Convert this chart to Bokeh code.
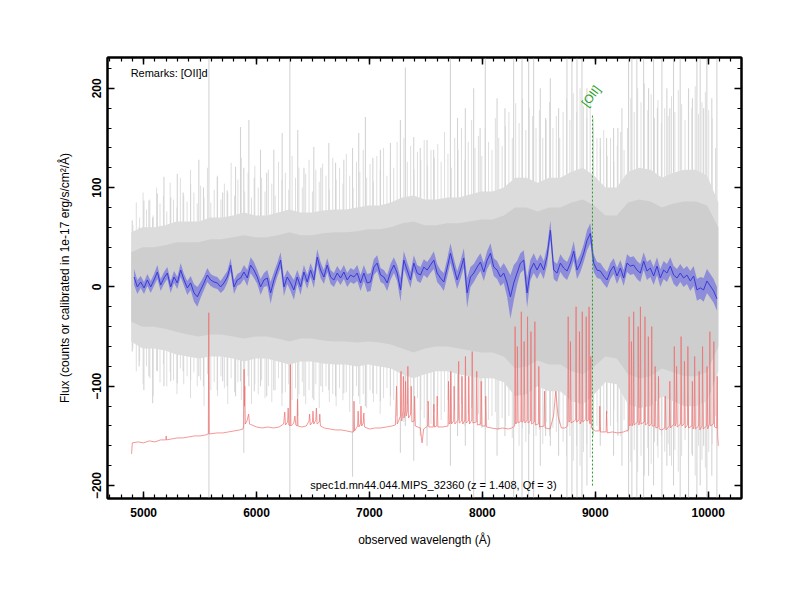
import numpy as np
from bokeh.plotting import figure
from bokeh.models import LinearAxis, SingleIntervalTicker, Range1d, Label
from bokeh.embed import file_html
from bokeh.resources import INLINE
from bokeh.core.properties import value

# ---------------- data ----------------
# smoothed object spectrum (blue), sampled every 29.5 A from 4915 A
blue_start = 4915.0
blue_step = 29.5
blue_flux = [
    10, 0, 5, -1, 7, 0, 7, 15, 2, 9,
    14, 0, 10, 4, 17, 7, -1, 4, -6, -10,
    -3, 4, 12, 7, 5, 4, 0, 4, 10, 22,
    0, 7, 9, 15, 9, 22, 17, 10, 0, 7,
    9, -6, 7, 17, 27, 0, 10, 4, -3, 10,
    0, 15, 5, 17, 7, 30, 17, 10, 22, 10, 7,
    14, 9, 15, 7, 12, 10, 14, 4, 14, 4,
    5, 20, 24, 12, 10, 4, 15, 22, 14, -3,
    27, 17, 7, 24, 14, 12, 20, 17, 22, 27,
    14, 9, 5, 19, 34, 20, 7, 17, 29, -6,
    10, 14, 20, 25, 15, 27, 34, 20, 17, 10,
    14, 4, -10, 4, 14, 24, 27, -6, 17, 24,
    17, 24, 17, 31, 57, 17, 14, 24, 19, 16,
    24, 36, 17, 24, 34, 47, 54, 24, 17, 16,
    11, 7, 16, 21, 11, 19, 9, 24, 21, 22,
    17, 14, 26, 16, 19, 11, 21, 9, 17, 14,
    21, 12, 9, 14, 9, 12, 6, 11, -3, -1,
    -3, 6, 1, -4, -12,
]
blue_err = [
    8, 7, 6, 6, 6, 6, 6, 7, 6, 6,
    6, 6, 6, 6, 7, 6, 7, 7, 9, 10,
    8, 7, 7, 6, 6, 6, 6, 7, 6, 7,
    7, 6, 6, 7, 8, 8, 8, 7, 8, 7,
    8, 11, 8, 7, 8, 9, 7, 8, 10, 7,
    8, 7, 7, 7, 8, 8, 8, 7, 7, 7, 7,
    7, 7, 7, 7, 7, 7, 8, 8, 8, 9,
    9, 8, 8, 7, 7, 8, 8, 8, 8, 12,
    9, 8, 8, 8, 8, 8, 8, 8, 8, 9,
    9, 8, 9, 9, 10, 9, 9, 9, 10, 15,
    10, 9, 9, 9, 9, 9, 10, 9, 9, 9,
    10, 14, 22, 18, 12, 10, 10, 15, 10, 10,
    9, 9, 9, 9, 10, 9, 9, 9, 9, 9,
    9, 10, 9, 9, 9, 10, 10, 9, 8, 8,
    8, 8, 8, 8, 8, 8, 8, 9, 9, 9,
    9, 9, 9, 9, 9, 9, 9, 9, 9, 9,
    9, 9, 9, 9, 9, 9, 10, 10, 11, 11,
    12, 12, 12, 12, 12,
]

# raw spectrum (grey): dense envelopes every 100 A from 4890 A
grey_start = 4890
grey_step = 100
grey_core_hi = [35, 40, 40, 42, 45, 45, 45, 48, 48, 50,
                52, 50, 50, 52, 55, 52, 52, 54, 55, 55,
                56, 58, 58, 60, 64, 66, 62, 62, 64, 64,
                66, 68, 68, 72, 80, 80, 76, 80, 80, 85,
                88, 82, 72, 72, 85, 88, 86, 80, 84, 86,
                86, 82, 60]
grey_core_lo = [-35, -40, -40, -42, -45, -48, -50, -48, -48, -50,
                -52, -50, -50, -52, -55, -52, -52, -54, -55, -55,
                -56, -55, -56, -58, -62, -66, -62, -60, -60, -62,
                -64, -66, -66, -70, -82, -80, -74, -78, -78, -85,
                -88, -80, -70, -72, -88, -92, -90, -82, -86, -90,
                -90, -86, -60]
grey_outer_hi = [55, 60, 60, 62, 66, 66, 66, 70, 70, 72,
                 75, 72, 72, 75, 78, 75, 75, 77, 78, 78,
                 80, 82, 82, 85, 90, 92, 88, 88, 90, 90,
                 93, 96, 96, 100, 110, 110, 105, 110, 110, 116,
                 120, 112, 100, 100, 116, 120, 118, 110, 115, 118,
                 118, 112, 85]
grey_outer_lo = [-55, -62, -62, -64, -68, -70, -72, -70, -70, -72,
                 -75, -72, -72, -75, -78, -75, -75, -77, -78, -78,
                 -80, -78, -80, -82, -88, -92, -88, -85, -85, -88,
                 -90, -92, -92, -96, -110, -108, -100, -105, -105, -115,
                 -118, -108, -96, -98, -118, -122, -120, -110, -115, -120,
                 -120, -115, -85]

# raw spectrum noise excursions, every 30 A from 4905 A
tex_start = 4905
tex_step = 30
tex_top = [
    62, 85, 70, 95, 78, 88, 72, 100, 84, 92,
    76, 105, 88, 80, 110, 92, 86, 118, 95, 84,
    102, 90, 120, 85, 98, 112, 88, 104, 95, 125,
    92, 108, 130, 96, 115, 90, 122, 100, 110, 96,
    118, 104, 92, 126, 108, 115, 98, 132, 110, 120,
    100, 114, 128, 96, 118, 106, 124, 112, 98, 130,
    108, 120, 104, 134, 112, 100, 126, 116, 138, 110,
    124, 106, 132, 118, 140, 112, 128, 120, 146, 130,
    150, 126, 142, 118, 136, 128, 148, 122, 138, 130,
    144, 126, 156, 134, 120, 150, 138, 160, 128, 146,
    168, 140, 152, 132, 160, 146, 138, 170, 150, 142,
    162, 176, 150, 185, 165, 190, 158, 180, 172, 160,
    178, 150, 168, 186, 160, 172, 150, 176, 190, 168,
    195, 176, 200, 182, 170, 188, 160, 150, 140, 158,
    132, 150, 126, 142, 156, 138, 160, 190, 176, 200,
    186, 205, 178, 194, 170, 188, 165, 180, 172, 192,
    176, 198, 184, 168, 190, 180, 202, 174, 186, 196,
    178, 170, 140,
]
tex_bot = [
    -62, -85, -75, -98, -80, -92, -110, -84, -96, -78,
    -100, -86, -94, -108, -82, -98, -90, -112, -86, -100,
    -94, -120, -88, -104, -96, -110, -90, -102, -118, -92,
    -106, -96, -114, -100, -90, -118, -98, -108, -94, -112,
    -100, -116, -104, -92, -120, -106, -98, -114, -102, -108,
    -96, -118, -104, -112, -98, -122, -106, -100, -116, -108,
    -120, -102, -114, -106, -126, -110, -100, -118, -108, -122,
    -104, -116, -108, -128, -112, -102, -120, -114, -130, -110,
    -136, -118, -128, -140, -112, -124, -132, -118, -138, -126,
    -120, -134, -126, -114, -138, -124, -132, -118, -140, -128,
    -122, -136, -128, -142, -120, -134, -130, -126, -144, -132,
    -140, -130, -152, -138, -160, -142, -156, -148, -136, -150,
    -144, -158, -136, -150, -142, -146, -138, -156, -170, -150,
    -175, -160, -180, -166, -158, -172, -150, -140, -132, -146,
    -128, -140, -124, -136, -150, -134, -146, -176, -164, -186,
    -170, -190, -162, -178, -156, -172, -150, -166, -158, -180,
    -164, -186, -170, -154, -178, -168, -190, -160, -174, -182,
    -166, -158, -130,
]

# individual raw-spectrum excursions at sky-line residuals
grey_spike_wave = [4899, 4960, 5002, 5047, 5080, 5121, 5180, 5240, 5298, 5350,
                   5416, 5489, 5530, 5578, 5652, 5700, 5740, 5814, 5858, 5887,
                   5932, 5980, 6035, 6090, 6153, 6227, 6295, 6365, 6420, 6507,
                   6570, 6640, 6700, 6773, 6850, 6905, 6964, 7030, 7097, 7186,
                   7274, 7318, 7392, 7450, 7510, 7569,
                   7717, 7780, 7849, 7923, 7980, 8026, 8130, 8200, 8277, 8351,
                   8410, 8454, 8513, 8560, 8602, 8675, 8749, 8793, 8838, 8882,
                   8926, 8980, 9044, 9100, 9162, 9200, 9236, 9295, 9324, 9368,
                   9428, 9472, 9516, 9550, 9590, 9634, 9660, 9693, 9752, 9826,
                   9860, 9900, 9929, 9960, 9988, 10032, 10077]
grey_spike_top = [67, 60, 87, 87, 70, 94, 111, 90, 114, 95,
                  104, 128, 100, 231, 111, 95, 97, 121, 161, 120,
                  168, 110, 138, 115, 138, 155, 231, 158, 120, 141,
                  120, 145, 125, 128, 140, 155, 171, 130, 138, 145,
                  168, 221, 151, 140, 148, 138,
                  231, 170, 180, 200, 160, 231, 190, 180, 231, 231,
                  231, 231, 200, 170, 210, 180, 231, 231, 231, 231,
                  200, 170, 150, 150, 160, 160, 180, 231, 231, 231,
                  231, 200, 231, 180, 231, 200, 180, 231, 231, 200,
                  190, 231, 231, 180, 231, 190, 231]
grey_spike_bot = [-65, -80, -104, -90, -117, -85, -100, -95, -97, -85,
                  -94, -90, -100, -213, -104, -95, -100, -110, -95, -167,
                  -100, -105, -100, -110, -104, -107, -213, -130, -110, -114,
                  -100, -104, -110, -107, -191, -110, -120, -107, -115, -110,
                  -167, -140, -175, -150, -160, -140,
                  -180, -150, -160, -213, -140, -200, -170, -150, -213, -213,
                  -213, -213, -180, -150, -160, -170, -213, -213, -213, -213,
                  -200, -150, -160, -140, -170, -150, -180, -213, -213, -213,
                  -213, -190, -200, -160, -213, -180, -170, -200, -213, -213,
                  -170, -213, -200, -160, -213, -190, -213]

# sky spectrum (red), wavelength / flux pairs
sky_points = [
    (4893, -168), (4900, -157), (4950, -156), (5000, -157), (5050, -155), (5100, -156),
    (5150, -154), (5197, -154), (5200, -150), (5203, -154), (5250, -153), (5300, -152),
    (5350, -152), (5400, -151), (5450, -150), (5500, -150), (5550, -149),
    (5573, -148), (5577, -26), (5581, -148),
    (5650, -147), (5700, -147), (5750, -146), (5800, -145), (5850, -144), (5880, -143),
    (5886, -140), (5890, -83), (5893, -120), (5896, -100), (5900, -138), (5915, -135),
    (5930, -128), (5938, -138), (5960, -139), (6000, -141), (6050, -142), (6100, -141),
    (6150, -142), (6200, -141),
    (6240, -138), (6250, -126), (6256, -139), (6275, -136), (6280, -122), (6286, -139),
    (6296, -140), (6300, -78), (6304, -140),
    (6330, -137), (6340, -130), (6348, -139), (6359, -140), (6363, -113), (6367, -140),
    (6400, -141), (6440, -140), (6465, -135), (6470, -128), (6476, -139), (6495, -136),
    (6500, -125), (6506, -138), (6525, -134), (6530, -122), (6536, -138), (6556, -136),
    (6560, -128), (6566, -140),
    (6600, -142), (6650, -143), (6700, -144), (6750, -144), (6800, -145), (6840, -146),
    (6859, -146), (6863, -115), (6868, -145), (6895, -140), (6900, -125), (6906, -141),
    (6920, -138), (6925, -120), (6931, -140), (6945, -137), (6950, -127), (6956, -141),
    (7000, -143), (7050, -142), (7100, -142), (7150, -141), (7200, -140), (7230, -139),
    (7240, -100), (7246, -138), (7275, -130), (7280, -85), (7286, -135), (7296, -125),
    (7300, -90), (7306, -132), (7316, -125), (7320, -95), (7326, -130), (7336, -125),
    (7340, -80), (7346, -132), (7366, -128), (7370, -100), (7376, -136), (7396, -135),
    (7400, -110), (7406, -140), (7450, -142), (7466, -157), (7480, -143),
    (7516, -140), (7520, -115), (7526, -141), (7566, -141), (7570, -118), (7576, -141),
    (7596, -140), (7600, -110), (7606, -141),
    (7650, -141), (7696, -140), (7700, -95), (7706, -138), (7716, -136), (7720, -85),
    (7726, -138), (7746, -135), (7750, -100), (7756, -138), (7786, -134), (7790, -75),
    (7796, -137), (7816, -135), (7820, -90), (7826, -138), (7846, -134), (7850, -70),
    (7856, -137), (7876, -135), (7880, -90), (7886, -138), (7906, -134), (7910, -65),
    (7916, -137), (7946, -136), (7950, -85), (7956, -139), (7986, -138), (7990, -95),
    (7996, -140), (8026, -140), (8030, -110), (8036, -141),
    (8080, -142), (8130, -143), (8180, -142), (8230, -143), (8260, -142),
    (8286, -140), (8290, -40), (8296, -138), (8306, -136), (8310, -60), (8316, -137),
    (8341, -135), (8345, -25), (8349, -136), (8366, -135), (8370, -55), (8376, -137),
    (8396, -134), (8400, -30), (8404, -137), (8426, -135), (8430, -45), (8436, -138),
    (8461, -136), (8465, -35), (8469, -139), (8496, -138), (8500, -80), (8506, -141),
    (8546, -140), (8550, -105), (8556, -142),
    (8600, -143), (8630, -130), (8650, -105), (8670, -130), (8700, -142),
    (8730, -142), (8756, -140), (8760, -30), (8766, -136), (8776, -135), (8780, -55),
    (8786, -137), (8826, -134), (8830, -20), (8834, -136), (8856, -134), (8860, -45),
    (8866, -138), (8881, -134), (8885, -25), (8889, -136), (8916, -133), (8920, -30),
    (8924, -135), (8941, -134), (8945, -20), (8949, -137), (8956, -138), (8960, -70),
    (8966, -142),
    (9000, -145), (9036, -145), (9040, -120), (9046, -146), (9096, -146), (9100, -125),
    (9106, -147), (9150, -146), (9200, -147), (9250, -146),
    (9296, -144), (9300, -30), (9304, -140), (9316, -138), (9320, -55), (9326, -140),
    (9336, -137), (9340, -25), (9344, -139), (9376, -136), (9380, -40), (9386, -139),
    (9396, -134), (9400, -20), (9404, -138), (9436, -136), (9440, -30), (9444, -139),
    (9466, -137), (9470, -50), (9476, -140), (9496, -138), (9500, -40), (9504, -140),
    (9526, -140), (9530, -80), (9536, -142), (9556, -141), (9560, -90), (9566, -143),
    (9590, -144), (9616, -142), (9620, -110), (9626, -144), (9656, -140), (9660, -95),
    (9666, -142), (9696, -138), (9700, -60), (9706, -140), (9716, -137), (9720, -80),
    (9726, -141), (9756, -138), (9760, -50), (9766, -140), (9786, -138), (9790, -75),
    (9796, -142), (9816, -139), (9820, -60), (9826, -142), (9856, -140), (9860, -95),
    (9866, -143), (9876, -140), (9880, -70), (9886, -143), (9916, -140), (9920, -85),
    (9926, -144), (9946, -140), (9950, -60), (9956, -143), (9986, -140), (9990, -80),
    (9996, -143), (10011, -138), (10015, -45), (10019, -140), (10046, -138), (10050, -55),
    (10056, -141), (10076, -142), (10080, -90), (10084, -150), (10090, -160),
]

oii_wave = 8975
oii_top = 173
oii_bottom = -200
oii_name = "[OII]"

remarks = "Remarks: [OII]d"
title_text = "spec1d.mn44.044.MIPS_32360 (z = 1.408, Qf = 3)"
x_label = "observed wavelength (Å)"
y_label = "Flux (counts or calibrated in 1e-17 erg/s/cm²/Å)"

# ---------------- derived arrays ----------------
blue_wave = blue_start + blue_step * np.arange(len(blue_flux))
blue_flux_a = np.array(blue_flux, dtype=float)
blue_err_a = np.array(blue_err, dtype=float)
grey_wave = grey_start + grey_step * np.arange(len(grey_core_hi))
tex_wave = tex_start + tex_step * np.arange(len(tex_top))
sky_wave = [w for w, f in sky_points]
sky_flux = [f for w, f in sky_points]

FONT = "Liberation Sans"

p = figure(width=784, height=584, output_backend="svg", toolbar_location=None,
           x_range=Range1d(4680, 10295), y_range=Range1d(-213, 231),
           min_border_left=107, min_border_right=43, min_border_top=57, min_border_bottom=86,
           x_axis_label=x_label, y_axis_label=y_label)
bottom_ax = p.below[0]
left_ax = p.left[0]
p.grid.visible = False
p.background_fill_color = "white"
p.border_fill_color = "white"
p.outline_line_color = "black"
p.outline_line_width = 2

# grey raw spectrum
p.segment(x0=tex_wave, y0=tex_bot, x1=tex_wave, y1=tex_top,
          line_color="#dedede", line_width=1)
p.segment(x0=grey_spike_wave, y0=grey_spike_bot, x1=grey_spike_wave, y1=grey_spike_top,
          line_color="#d4d4d4", line_width=1.1)
p.varea(x=grey_wave, y1=grey_outer_lo, y2=grey_outer_hi, fill_color="#dcdcdc")
p.varea(x=grey_wave, y1=grey_core_lo, y2=grey_core_hi, fill_color="#cecece")

# red sky
p.line(sky_wave, sky_flux, line_color="#f07070", line_width=0.8, line_alpha=0.9)

# blue smoothed spectrum with error band
p.varea(x=blue_wave, y1=blue_flux_a - blue_err_a, y2=blue_flux_a + blue_err_a,
        fill_color="#6a6ae0", fill_alpha=0.65)
p.line(blue_wave, blue_flux_a, line_color="#3a3ad8", line_width=1)

# [OII] marker
p.segment(x0=[oii_wave], y0=[oii_bottom], x1=[oii_wave], y1=[oii_top],
          line_color="#22a022", line_width=1, line_dash="2 2")
p.text(x=[oii_wave - 12], y=[192], text=[oii_name], angle=0.93,
       text_align="center", text_baseline="middle",
       text_color="#22a022", text_font=value(FONT), text_font_size="12px")
p.add_layout(Label(x=4885, y=215, text=remarks, text_align="left", text_baseline="middle",
                   text_color="black", text_font=FONT, text_font_size="11px"))
p.add_layout(Label(x=7566, y=-199, text=title_text, text_align="center", text_baseline="middle",
                   text_color="black", text_font=FONT, text_font_size="11px"))

# axes
xt = SingleIntervalTicker(interval=1000, num_minor_ticks=10)
yt = SingleIntervalTicker(interval=100, num_minor_ticks=5)
bottom_ax.ticker = xt
left_ax.ticker = yt
top_ax = LinearAxis(ticker=xt)
right_ax = LinearAxis(ticker=yt)
p.add_layout(top_ax, "above")
p.add_layout(right_ax, "right")

for ax in [bottom_ax, left_ax, top_ax, right_ax]:
    ax.axis_line_width = 2
    ax.axis_line_color = "black"
    ax.major_tick_in = 7
    ax.major_tick_out = 0
    ax.minor_tick_in = 4
    ax.minor_tick_out = 0
    ax.major_tick_line_width = 1.5
    ax.minor_tick_line_width = 1.2
    ax.major_tick_line_color = "black"
    ax.minor_tick_line_color = "black"
    ax.major_label_text_font = FONT
    ax.major_label_text_font_style = "bold"
    ax.major_label_text_font_size = "12px"
    ax.major_label_text_color = "black"
    ax.axis_label_text_font = FONT
    ax.axis_label_text_font_style = "normal"
    ax.axis_label_text_font_size = "12px"
    ax.axis_label_text_color = "black"

for ax in [top_ax, right_ax]:
    ax.major_label_text_alpha = 0
    ax.major_label_text_font_size = "1px"

bottom_ax.major_label_standoff = 9
bottom_ax.axis_label_standoff = 13
left_ax.major_label_orientation = "vertical"
left_ax.major_label_standoff = 6
left_ax.axis_label_standoff = 18

open("out.html", "w").write(file_html(p, INLINE))
